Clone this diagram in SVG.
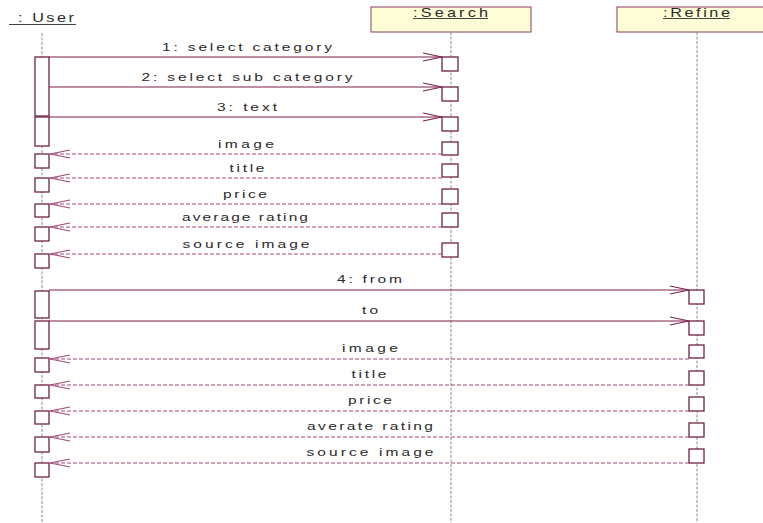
<svg xmlns="http://www.w3.org/2000/svg" width="763" height="523" viewBox="0 0 763 523">
<style>
.lbl{font-family:"Liberation Sans",Arial,sans-serif;font-size:11.5px;fill:#2a2a2a;text-anchor:middle}
.hdr{font-family:"Liberation Sans",Arial,sans-serif;font-size:12px;fill:#2a2a2a;text-anchor:middle}
.life{stroke:#8a8a8a;stroke-width:1;stroke-dasharray:3,1.5;fill:none}
.act{fill:#fff;stroke:#6e2346;stroke-width:1.3}
.head{fill:#fefed6;stroke:#8c3a5c;stroke-width:1}
.ul{stroke:#444;stroke-width:1}
.call{stroke:#7e1f4c;stroke-width:1.1;fill:none;marker-end:url(#open)}
.ret{stroke:#a5477a;stroke-width:1;stroke-dasharray:4,2;fill:none;marker-end:url(#openr)}
</style>
<defs>
<marker id="open" markerUnits="userSpaceOnUse" markerWidth="24" markerHeight="12" viewBox="-20 -6 22 12" refX="0" refY="0" orient="auto">
<path d="M-19,-4 L0,0 L-19,4" fill="none" stroke="#7e1f4c" stroke-width="1.1"/>
</marker>
<marker id="openr" markerUnits="userSpaceOnUse" markerWidth="24" markerHeight="12" viewBox="-22 -6 24 12" refX="0" refY="0" orient="auto">
<path d="M-20,-4 L0,0 L-20,4" fill="none" stroke="#a5477a" stroke-width="1.1"/>
</marker>
</defs>
<rect width="763" height="523" fill="#fff"/>

<g id="user">
<g transform="translate(46,22) scale(1.35,1)"><text class="hdr" x="0" y="0" textLength="41.5" lengthAdjust="spacing">: User</text></g>
<line class="ul" x1="9" y1="24.5" x2="76" y2="24.5"/>
<line class="life" x1="42" y1="33" x2="42" y2="523"/>
<rect class="act" x="35" y="57" width="14" height="59"/>
<rect class="act" x="35" y="117" width="14" height="29"/>
<rect class="act" x="35" y="154" width="14" height="14"/>
<rect class="act" x="35" y="178" width="14" height="14"/>
<rect class="act" x="35" y="204" width="14" height="13"/>
<rect class="act" x="35" y="227" width="14" height="14"/>
<rect class="act" x="35" y="254" width="14" height="14"/>
<rect class="act" x="35" y="291" width="14" height="27"/>
<rect class="act" x="35" y="321" width="14" height="28"/>
<rect class="act" x="35" y="358" width="14" height="14"/>
<rect class="act" x="35" y="385" width="14" height="13"/>
<rect class="act" x="35" y="411" width="14" height="13"/>
<rect class="act" x="35" y="437" width="14" height="15"/>
<rect class="act" x="35" y="463" width="14" height="14"/>
</g>

<g id="search">
<rect class="head" x="371" y="7" width="160" height="25"/>
<g transform="translate(450.5,17) scale(1.35,1)"><text class="hdr" x="0" y="0" textLength="55.6" lengthAdjust="spacing">:Search</text></g>
<line class="ul" x1="413" y1="18.5" x2="488" y2="18.5"/>
<line class="life" x1="451" y1="32" x2="451" y2="523"/>
<rect class="act" x="442" y="57" width="16" height="14"/>
<rect class="act" x="442" y="87" width="16" height="14"/>
<rect class="act" x="442" y="117" width="16" height="14"/>
<rect class="act" x="442" y="142" width="16" height="13"/>
<rect class="act" x="442" y="164" width="16" height="13"/>
<rect class="act" x="442" y="189" width="16" height="15"/>
<rect class="act" x="442" y="213" width="16" height="14"/>
<rect class="act" x="442" y="243" width="16" height="14"/>
</g>

<g id="refine">
<rect class="head" x="617" y="7" width="160" height="25"/>
<g transform="translate(696.5,17) scale(1.35,1)"><text class="hdr" x="0" y="0" textLength="49.6" lengthAdjust="spacing">:Refine</text></g>
<line class="ul" x1="663" y1="18.5" x2="730" y2="18.5"/>
<line class="life" x1="697" y1="32" x2="697" y2="523"/>
<rect class="act" x="689" y="290" width="15" height="14"/>
<rect class="act" x="689" y="321" width="15" height="14"/>
<rect class="act" x="689" y="345" width="15" height="13"/>
<rect class="act" x="689" y="371" width="15" height="14"/>
<rect class="act" x="689" y="397" width="15" height="14"/>
<rect class="act" x="689" y="423" width="15" height="14"/>
<rect class="act" x="689" y="449" width="15" height="14"/>
</g>

<g id="connectors">
<line class="call" x1="49" y1="57" x2="442" y2="57"/>
<line class="call" x1="49" y1="87" x2="442" y2="87"/>
<line class="call" x1="49" y1="117" x2="442" y2="117"/>
<line class="ret" x1="442" y1="154" x2="50" y2="154"/>
<line class="ret" x1="442" y1="178" x2="50" y2="178"/>
<line class="ret" x1="442" y1="204" x2="50" y2="204"/>
<line class="ret" x1="442" y1="227" x2="50" y2="227"/>
<line class="ret" x1="442" y1="254" x2="50" y2="254"/>
<line class="call" x1="49" y1="290" x2="689" y2="290"/>
<line class="call" x1="49" y1="321" x2="689" y2="321"/>
<line class="ret" x1="689" y1="359" x2="50" y2="359"/>
<line class="ret" x1="689" y1="385" x2="50" y2="385"/>
<line class="ret" x1="689" y1="411" x2="50" y2="411"/>
<line class="ret" x1="689" y1="437" x2="50" y2="437"/>
<line class="ret" x1="689" y1="463" x2="50" y2="463"/>

<g transform="translate(247,51) scale(1.35,1)"><text class="lbl" textLength="125.9" lengthAdjust="spacing">1: select category</text></g>
<g transform="translate(247,81) scale(1.35,1)"><text class="lbl" textLength="156.3" lengthAdjust="spacing">2: select sub category</text></g>
<g transform="translate(247,111) scale(1.35,1)"><text class="lbl" textLength="44.4" lengthAdjust="spacing">3: text</text></g>
<g transform="translate(246,148) scale(1.35,1)"><text class="lbl" textLength="41.5" lengthAdjust="spacing">image</text></g>
<g transform="translate(247,172) scale(1.35,1)"><text class="lbl" textLength="25.9" lengthAdjust="spacing">title</text></g>
<g transform="translate(245,198) scale(1.35,1)"><text class="lbl" textLength="32.6" lengthAdjust="spacing">price</text></g>
<g transform="translate(245,221) scale(1.35,1)"><text class="lbl" textLength="93.3" lengthAdjust="spacing">average rating</text></g>
<g transform="translate(246,248) scale(1.35,1)"><text class="lbl" textLength="94.1" lengthAdjust="spacing">source image</text></g>
<g transform="translate(369.5,283) scale(1.35,1)"><text class="lbl" textLength="48.1" lengthAdjust="spacing">4: from</text></g>
<g transform="translate(370,314) scale(1.35,1)"><text class="lbl" textLength="11.9" lengthAdjust="spacing">to</text></g>
<g transform="translate(370,352) scale(1.35,1)"><text class="lbl" textLength="41.5" lengthAdjust="spacing">image</text></g>
<g transform="translate(369,378) scale(1.35,1)"><text class="lbl" textLength="25.9" lengthAdjust="spacing">title</text></g>
<g transform="translate(370,404) scale(1.35,1)"><text class="lbl" textLength="32.6" lengthAdjust="spacing">price</text></g>
<g transform="translate(370,430) scale(1.35,1)"><text class="lbl" textLength="93.3" lengthAdjust="spacing">averate rating</text></g>
<g transform="translate(370,456) scale(1.35,1)"><text class="lbl" textLength="94.1" lengthAdjust="spacing">source image</text></g>
</g>
</svg>
